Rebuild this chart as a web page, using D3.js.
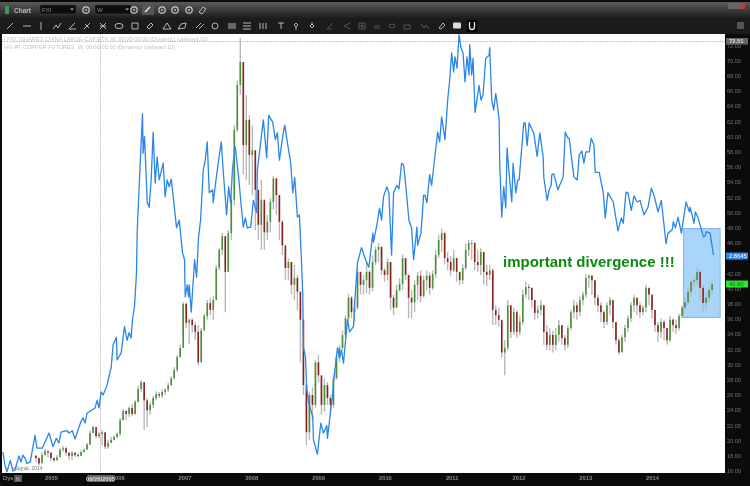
<!DOCTYPE html>
<html><head><meta charset="utf-8">
<style>html,body{margin:0;padding:0;background:#111;overflow:hidden}svg{display:block;filter:blur(.45px)}
text{font-family:"Liberation Sans",Arial,sans-serif}</style>
<script src="https://cdnjs.cloudflare.com/ajax/libs/d3/7.8.5/d3.min.js"></script></head><body>
<svg id="c" width="750" height="486"></svg>
<script>
const yearTicks=[2005,2006,2007,2008,2009,2010,2011,2012,2013,2014];
const priceTicks=[16,18,20,22,24,26,28,30,32,34,36,38,40,42,44,46,48,50,52,54,56,58,60,62,64,66,68,70,72];
const legendLines=["| FXI, ISHARES CHINA LARGE-CAP ETF, W, 00:00-00:00 (Dynamic) (delayed 15)","HG #F, COPPER FUTURES, W, 00:00-00:00 (Dynamic) (delayed 10)"];
const annotation="important divergence !!!";
const cursorYear=2005.74, cursorDate="09/26/2005", cursorPrice=72.51;
const lastCopperLabel="2.8645", lastFxi=40.60;
const boxYears=[2014.47,2015.02], boxPrices=[36.2,47.9];

const copperYears=[
2004.28,2004.31,2004.34,2004.39,2004.43,2004.46,2004.52,2004.55,2004.58,2004.61,
2004.64,2004.69,2004.76,2004.79,2004.87,2004.97,2005.03,2005.08,2005.12,2005.15,
2005.24,2005.27,2005.32,2005.36,2005.44,2005.48,2005.51,2005.54,2005.66,2005.69,
2005.72,2005.75,2005.78,2005.84,2005.89,2005.90,2005.93,2005.98,2005.99,2006.05,
2006.10,2006.14,2006.17,2006.20,2006.22,2006.25,2006.28,2006.29,2006.32,2006.37,
2006.38,2006.40,2006.43,2006.44,2006.47,2006.50,2006.53,2006.56,2006.59,2006.62,
2006.68,2006.71,2006.74,2006.77,2006.80,2006.83,2006.88,2006.92,2006.97,2007.00,
2007.01,2007.04,2007.06,2007.07,2007.10,2007.15,2007.18,2007.21,2007.24,2007.28,
2007.31,2007.34,2007.37,2007.42,2007.43,2007.46,2007.51,2007.55,2007.58,2007.63,
2007.66,2007.69,2007.72,2007.76,2007.81,2007.85,2007.88,2007.91,2007.94,2007.99,
2008.03,2008.08,2008.09,2008.15,2008.18,2008.23,2008.26,2008.32,2008.36,2008.39,
2008.42,2008.47,2008.50,2008.54,2008.59,2008.62,2008.65,2008.69,2008.72,2008.75,
2008.77,2008.78,2008.81,2008.83,2008.86,2008.92,2008.93,2008.99,2009.04,2009.08,
2009.13,2009.14,2009.22,2009.23,2009.29,2009.32,2009.35,2009.38,2009.44,2009.47,
2009.53,2009.55,2009.59,2009.65,2009.71,2009.76,2009.82,2009.83,2009.88,2009.92,
2009.95,2009.98,2010.03,2010.06,2010.10,2010.13,2010.18,2010.21,2010.25,2010.28,
2010.31,2010.36,2010.40,2010.43,2010.48,2010.49,2010.54,2010.58,2010.60,2010.63,
2010.67,2010.70,2010.79,2010.82,2010.85,2010.90,2010.94,2010.97,2011.00,2011.03,
2011.05,2011.08,2011.11,2011.14,2011.17,2011.20,2011.23,2011.26,2011.27,2011.30,
2011.32,2011.35,2011.41,2011.44,2011.47,2011.51,2011.56,2011.57,2011.60,2011.63,
2011.66,2011.71,2011.72,2011.75,2011.78,2011.81,2011.83,2011.86,2011.90,2011.92,
2011.96,2011.99,2012.01,2012.08,2012.10,2012.13,2012.16,2012.22,2012.23,2012.28,
2012.32,2012.37,2012.38,2012.43,2012.46,2012.49,2012.50,2012.53,2012.59,2012.67,
2012.70,2012.74,2012.76,2012.83,2012.88,2012.91,2012.95,2012.98,2013.01,2013.06,
2013.09,2013.13,2013.15,2013.21,2013.27,2013.30,2013.34,2013.42,2013.49,2013.54,
2013.57,2013.61,2013.64,2013.69,2013.73,2013.78,2013.82,2013.88,2013.94,2013.99,
2014.03,2014.09,2014.14,2014.21,2014.24,2014.30,2014.32,2014.35,2014.39,2014.44,
2014.51,2014.56,2014.57,2014.63,2014.65,2014.69,2014.77,2014.80,2014.81,2014.87,
2014.92];
const copperValues=[
18.5,16.8,15.9,17.4,16.0,16.1,18.0,17.2,18.1,17.7,
17.0,17.2,20.7,19.0,19.0,21.0,19.2,20.3,19.7,21.1,
21.3,21.0,21.3,20.2,22.3,23.0,22.3,23.6,24.3,25.3,
24.3,26.4,26.0,27.3,29.3,29.5,32.6,33.6,30.6,31.5,
35.0,33.2,34.2,33.5,35.9,37.6,42.0,47.3,53.4,63.0,
57.8,60.0,53.9,51.4,50.7,54.3,60.6,53.9,57.3,54.3,
56.5,52.1,54.3,53.4,54.4,52.1,48.0,49.0,44.7,43.8,
38.9,40.5,38.9,40.5,36.9,43.8,41.5,46.8,49.0,55.6,
56.9,59.3,52.6,53.0,51.3,53.6,56.9,59.3,55.3,49.7,
53.4,51.3,56.0,58.6,54.7,50.7,48.1,49.3,48.0,48.1,
51.6,50.0,55.6,60.0,62.2,57.2,62.8,61.9,59.6,60.5,
56.9,60.0,61.5,59.2,56.5,52.6,54.6,49.4,49.7,43.8,
39.4,32.3,31.0,26.7,25.0,23.1,20.1,18.2,22.3,21.0,
22.0,20.3,26.4,27.7,32.2,30.9,31.9,30.2,35.9,34.3,
35.0,38.5,43.4,45.4,43.8,42.8,47.3,46.1,48.4,50.6,
49.0,52.1,53.4,52.6,44.4,52.6,53.6,53.1,56.5,56.3,
53.9,49.0,48.0,43.8,48.1,45.7,47.3,52.3,52.3,51.3,
55.0,53.6,60.6,59.3,62.6,59.6,64.8,67.4,71.0,68.5,
70.5,69.0,73.4,71.7,71.0,67.2,70.5,68.1,72.1,68.1,
70.3,63.2,66.7,64.8,65.5,70.3,70.7,71.7,64.8,63.5,
65.7,62.4,56.5,49.4,53.4,50.6,58.5,55.2,51.4,56.5,
52.6,54.3,54.3,61.8,61.8,58.8,61.8,60.6,60.5,57.4,
60.5,57.3,54.6,51.6,53.0,53.6,55.0,55.1,53.0,54.7,
60.6,59.8,59.8,54.7,54.3,57.6,58.1,56.5,58.0,58.0,
59.8,58.9,55.3,55.3,52.6,49.3,52.6,51.4,47.6,49.3,
48.6,52.7,52.6,50.3,52.2,51.4,51.6,49.7,50.7,53.2,
52.3,50.1,51.6,45.9,47.3,47.7,48.8,48.0,49.4,47.3,
51.4,50.1,50.7,48.6,50.1,49.3,46.8,47.0,47.5,47.3,
44.4];

const candleFirstYear=2004.775, candleStepYears=0.045;
const fxiClose=[
17.7,17.0,18.1,18.6,18.4,17.7,17.4,17.8,18.8,19.0,
18.4,18.0,18.4,18.1,18.0,18.5,18.8,19.5,21.0,21.8,
20.6,20.9,21.1,19.2,19.7,20.1,20.5,20.9,22.7,23.9,
23.5,24.3,23.5,25.1,26.8,27.7,25.3,24.0,24.7,25.6,
26.1,25.9,26.4,26.7,27.3,28.2,29.3,31.0,32.2,38.0,
35.5,35.9,35.2,34.3,30.3,34.5,36.4,38.1,37.2,38.5,
42.7,45.1,46.9,42.2,47.3,51.7,60.9,66.8,69.8,58.9,
62.2,57.6,58.2,53.0,48.4,51.7,47.4,48.8,51.4,54.5,
52.3,48.8,45.7,42.7,43.5,40.5,41.4,39.6,35.9,27.3,
21.1,26.0,24.7,30.3,28.6,24.7,27.3,25.6,24.7,28.2,
30.9,32.2,33.9,36.1,38.8,36.9,37.5,42.2,40.5,41.1,
42.2,40.1,43.5,45.1,45.5,42.4,41.8,43.5,38.8,37.5,
39.8,40.6,44.0,41.8,38.8,38.2,40.5,41.7,39.0,41.1,
41.7,40.1,41.9,44.4,46.4,47.3,44.0,43.5,42.4,44.0,
42.2,41.1,42.7,45.1,46.0,46.0,43.5,43.1,44.8,42.2,
41.8,42.4,37.2,36.5,35.9,31.6,32.2,37.8,34.3,36.9,
34.3,35.6,39.2,40.2,40.1,38.5,36.8,37.2,37.8,34.3,
32.6,33.9,32.6,33.9,35.2,33.5,32.6,34.8,36.9,37.8,
36.9,38.5,39.2,41.4,41.7,41.1,38.8,37.8,36.9,35.6,
37.8,38.5,35.6,33.2,31.6,33.6,34.8,36.1,37.8,38.8,
37.8,36.9,37.5,40.1,39.2,37.2,35.2,34.3,35.6,34.8,
33.2,35.9,35.2,34.8,36.4,37.5,38.2,39.6,40.9,41.1,
42.2,40.1,38.1,38.8,39.8,40.6];
const fxiHigh=[
18.1,17.8,18.5,18.9,18.8,18.5,17.8,18.1,19.0,19.3,
19.2,18.5,18.6,18.5,18.4,18.8,19.0,19.7,21.3,22.0,
21.4,21.1,21.4,21.0,20.1,20.5,20.7,21.1,23.0,24.2,
24.0,24.5,24.8,25.3,27.2,28.0,27.6,25.6,25.1,25.9,
26.5,26.4,26.7,26.9,27.6,28.5,29.7,31.3,32.6,38.2,
38.2,36.1,36.1,35.6,35.2,34.8,36.7,38.5,38.8,39.0,
43.1,45.3,47.3,46.7,47.7,52.2,61.5,67.4,73.0,68.8,
65.5,62.8,61.5,58.2,53.0,54.3,51.0,49.7,51.9,54.8,
54.5,52.3,49.0,45.1,44.0,43.5,43.1,41.8,38.5,30.6,
27.3,26.4,27.0,30.6,31.3,28.2,28.2,27.7,26.0,28.6,
31.3,32.6,34.5,36.5,39.3,39.0,38.5,42.7,42.2,41.8,
43.5,42.4,44.4,45.5,46.0,45.3,42.7,44.0,43.5,39.2,
40.5,41.4,44.5,44.0,41.8,39.8,41.1,42.2,42.4,41.7,
42.4,42.2,42.4,45.1,47.1,47.9,47.5,44.8,44.3,45.1,
44.0,42.2,43.2,45.9,46.4,46.4,46.1,45.1,45.3,44.8,
43.1,43.1,42.7,37.8,37.5,35.6,33.2,38.5,37.8,37.5,
37.2,36.5,39.8,40.9,40.6,40.1,38.5,37.8,38.5,37.8,
35.2,34.8,34.5,34.8,35.9,35.2,33.9,35.2,37.2,38.5,
38.2,39.0,39.6,41.9,41.9,41.8,41.1,39.2,38.2,37.2,
38.2,38.9,38.2,35.6,33.5,33.9,35.2,36.5,38.2,39.2,
38.8,38.2,37.8,40.5,40.1,39.2,37.2,35.6,36.1,35.9,
34.8,36.4,36.1,35.9,36.7,37.8,38.8,40.1,41.1,41.5,
42.7,42.4,40.5,39.3,40.3,41.1];
const fxiLow=[
17.2,16.7,17.4,18.0,17.8,17.3,17.2,17.4,18.0,18.5,
18.0,17.4,17.4,17.8,17.8,18.0,18.4,18.8,19.4,21.0,
20.3,20.3,19.4,18.9,18.9,19.7,20.0,20.3,20.6,22.6,
22.7,23.1,23.2,23.4,25.0,26.4,21.4,21.8,23.4,24.3,
25.3,25.6,25.6,26.0,26.4,27.2,28.0,29.0,30.9,33.9,
34.8,32.7,34.2,33.2,29.8,30.3,34.5,35.9,36.5,35.9,
38.5,42.4,44.4,36.9,42.2,46.4,51.0,60.6,65.5,55.0,
54.3,53.6,52.3,47.7,46.4,45.1,45.1,46.4,47.4,50.4,
49.7,46.4,44.4,41.1,41.1,39.2,38.5,37.2,30.3,26.0,
19.4,20.1,22.7,24.3,27.7,23.4,23.8,24.7,23.4,24.3,
28.0,30.3,31.9,33.5,35.6,36.1,35.6,37.2,39.2,39.2,
39.4,39.2,39.6,43.1,43.5,41.8,40.9,41.1,37.2,36.5,
37.5,39.6,39.8,41.1,36.1,36.1,36.9,38.5,38.2,38.8,
39.8,39.2,39.8,41.4,44.0,44.8,43.2,42.4,41.7,42.2,
40.9,40.5,40.6,42.4,44.3,43.8,42.4,42.2,41.8,40.5,
40.3,41.1,35.2,35.2,35.0,30.9,28.6,31.9,33.5,33.9,
33.5,33.9,35.2,38.8,38.5,37.5,35.9,36.1,36.5,32.6,
31.9,31.9,31.6,31.9,33.0,32.6,31.9,32.2,34.5,36.1,
35.9,36.4,37.8,38.8,40.1,39.2,37.8,36.9,35.6,34.8,
35.2,36.5,34.8,32.6,31.3,31.7,33.0,34.3,35.6,36.9,
36.5,36.1,36.5,36.9,37.8,36.1,34.3,33.0,33.5,33.2,
32.6,33.0,34.3,34.0,34.5,36.1,37.2,37.8,39.0,40.2,
40.5,38.5,37.0,37.2,38.2,39.2];

const svg=d3.select("#c");
const x=d3.scaleLinear().domain([2005,2014]).range([51,652]);
const y=d3.scaleLinear().domain([16,72]).range([471,45.4]);

const defs=svg.append("defs");
defs.append("clipPath").attr("id","plot").append("rect").attr("x",2).attr("y",34).attr("width",723).attr("height",439);
const grad=defs.append("linearGradient").attr("id","title").attr("x1",0).attr("y1",0).attr("x2",0).attr("y2",1);
grad.append("stop").attr("offset",0).attr("stop-color","#5a5a5a");
grad.append("stop").attr("offset",1).attr("stop-color","#1e1e1e");

svg.append("rect").attr("width",750).attr("height",486).attr("fill","#0b0b0b");
svg.append("rect").attr("x",0).attr("y",2).attr("width",750).attr("height",16).attr("fill","url(#title)");
svg.append("rect").attr("x",0).attr("y",18).attr("width",750).attr("height",16).attr("fill","#1b1b1b");
svg.append("rect").attr("x",2).attr("y",34).attr("width",723).attr("height",439).attr("fill","#fff");

// toolbar chrome
const bar=svg.append("g");
bar.append("path").attr("d","M5 6h4v8h-4z").attr("fill","#3f9a55");
bar.append("text").attr("x",14).attr("y",12.5).attr("font-size",6.5).attr("font-weight","bold").attr("fill","#bbb").text("Chart");
[[40,36,"FXI"],[95,36,"W"]].forEach(d=>{
  bar.append("rect").attr("x",d[0]).attr("y",5).attr("width",d[1]).attr("height",9).attr("fill","#0c0c0c").attr("stroke","#444").attr("stroke-width",.5);
  bar.append("text").attr("x",d[0]+2).attr("y",12).attr("font-size",6).attr("fill","#888").text(d[2]);
  bar.append("path").attr("d",`M${d[0]+d[1]-6} 8.5l2 2l2-2z`).attr("fill","#aaa");
});
bar.append("rect").attr("x",142).attr("y",4).attr("width",12).attr("height",11).attr("fill","#555");
bar.append("path").attr("d","M145 12l5-5").attr("stroke","#ddd").attr("stroke-width",1.6);
[86,134,162,175,189].forEach(c=>{
  bar.append("circle").attr("cx",c).attr("cy",10).attr("r",3.2).attr("fill","none").attr("stroke","#ccc").attr("stroke-width",1.2);
  bar.append("circle").attr("cx",c).attr("cy",10).attr("r",.9).attr("fill","#ccc");
});
bar.append("path").attr("d","M199 12l4-5l3 2l-4 5z").attr("fill","none").attr("stroke","#bbb");
const icons=[
 [10,"M-3 3L3-3"],[27,"M-4 0H4"],[41,"M0-4V4"],[57,"M-4 3L-1-1L1 2L4-3"],[72,"M-3 3L3-3M-3 3H4"],[87,"M-3 3L3-3M-2-2L2 2"],[103,"M-3-3L3 3M-3 3L3-3M-3 0H3"],
 [119,"M-4 0a4 2.6 0 1 0 8 0a4 2.6 0 1 0-8 0"],[135,"M-3-3H3V3H-3Z"],[150,"M-3 1L1-3L3-1L-1 3Z"],[167,"M-4 3L0-3L4 3Z"],[182,"M-4 3L-1-2L4-3L3 2Z"],
 [200,"M-4 2L1-3M-1 3L4-2"],[215,"M-3 0a3 3 0 1 0 6 0a3 3 0 1 0-6 0"],[232,"M-4-2H4M-4 0H4M-4 2H4"],[247,"M-4-3H4M-4 3H4M-4 0H4"],[263,"M-3-3V3M0-3V3M3-3V3"],
 [281,"M-3-3H3M0-3V3"],[296,"M-2-1L0-3L2-1L0 1ZM0 1V4"],[312,"M-2 0L0-2L2 0L0 2ZM0-4V-2"],
 [330,"M-3 3L3-3M-3 3H2","#555"],[347,"M3-3L-3 0L3 3","#555"],[362,"M-3-3H3V3H-3ZM0-3V3M-3 0H3","#555"],[377,"M-3 0H3M-3 2H3","#555"],[392,"M-3 0a3 2 0 1 0 6 0a3 2 0 1 0-6 0","#555"],
 [407,"M-3 3V-1H3V3Z","#555"],[425,"M-4-2L-1 2L1-1L4 3","#555"],[442,"M-3 2L1-3L3-1L-1 3Z"]
];
icons.forEach(d=>{
  bar.append("path").attr("transform",`translate(${d[0]},26)`).attr("d",d[1]).attr("fill","none").attr("stroke",d[2]||"#b5b5b5").attr("stroke-width",1);
});
bar.append("rect").attr("x",453).attr("y",22.5).attr("width",8).attr("height",6).attr("rx",1).attr("fill","#ddd");
bar.append("rect").attr("x",467).attr("y",20).attr("width",10).attr("height",12).attr("fill","#000");
bar.append("path").attr("d","M469.5 22v5a2.5 2.5 0 0 0 5 0v-5").attr("fill","none").attr("stroke","#eee").attr("stroke-width",1.3);
bar.append("rect").attr("x",737).attr("y",22).attr("width",7).attr("height",7).attr("fill","#555");
bar.append("rect").attr("x",728).attr("y",3).attr("width",11).attr("height",6).attr("fill","#666");
bar.append("rect").attr("x",739).attr("y",3).attr("width",6).attr("height",6).attr("fill","#a8453c");

// plot
const plot=svg.append("g").attr("clip-path","url(#plot)");
plot.append("rect").attr("x",x(boxYears[0])).attr("y",y(boxPrices[1]))
  .attr("width",x(boxYears[1])-x(boxYears[0])).attr("height",y(boxPrices[0])-y(boxPrices[1]))
  .attr("fill","#a9d5fb").attr("stroke","#7cb9ee").attr("stroke-width",1);

plot.append("line").attr("x1",x(cursorYear)).attr("x2",x(cursorYear)).attr("y1",34).attr("y2",473)
  .attr("stroke","#999").attr("stroke-width",.8).attr("stroke-dasharray","1.2 1.2");
plot.append("line").attr("x1",2).attr("x2",725).attr("y1",y(cursorPrice)).attr("y2",y(cursorPrice))
  .attr("stroke","#999").attr("stroke-width",.8).attr("stroke-dasharray","1.2 1.2");

const candles=fxiClose.map((c,i)=>({year:candleFirstYear+i*candleStepYears,open:i?fxiClose[i-1]:c+0.3,close:c,high:fxiHigh[i],low:fxiLow[i]}));
plot.append("g").selectAll("line").data(candles).join("line")
  .attr("x1",d=>x(d.year)).attr("x2",d=>x(d.year)).attr("y1",d=>y(d.high)).attr("y2",d=>y(d.low))
  .attr("stroke","#b9b9b9").attr("stroke-width",1.4);
plot.append("g").selectAll("rect").data(candles).join("rect")
  .attr("x",d=>x(d.year)-.8).attr("width",1.6)
  .attr("y",d=>y(Math.max(d.open,d.close)))
  .attr("height",d=>Math.max(1,Math.abs(y(d.open)-y(d.close))))
  .attr("fill",d=>d.close>=d.open?"#4a9038":"#8c2020");

const line=d3.line().x(d=>x(d[0])).y(d=>y(d[1]));
plot.append("path").datum(d3.zip(copperYears,copperValues)).attr("d",line)
  .attr("fill","none").attr("stroke","#2a86e8").attr("stroke-width",1.3).attr("stroke-linejoin","round");

const legend=plot.append("g");
legendLines.forEach((t,i)=>legend.append("text").attr("x",4).attr("y",41+i*8).attr("font-size",5.6).attr("fill","#c4c4c4").text(t));
plot.append("text").attr("x",12).attr("y",470).attr("font-size",5).attr("fill","#777").text("eSignal, 2014");
plot.append("text").attr("x",503).attr("y",267).attr("font-size",15).attr("font-weight","bold").attr("fill","#0b8a0b").text(annotation);

// axes
const yAxis=d3.axisRight(y).tickValues(priceTicks).tickSize(0).tickPadding(0).tickFormat(d3.format(".2f"));
const yg=svg.append("g").attr("transform","translate(727,0)").call(yAxis);
yg.select(".domain").remove();
yg.selectAll("text").attr("font-size",5.6).attr("fill","#757575").attr("font-family","Liberation Sans");
const xAxis=d3.axisBottom(x).tickValues(yearTicks).tickSize(0).tickPadding(0).tickFormat(d3.format("d"));
const xg=svg.append("g").attr("transform","translate(0,475.5)").call(xAxis);
xg.select(".domain").remove();
xg.selectAll("text").attr("font-size",5.8).attr("font-weight","bold").attr("fill","#8c8c8c").attr("font-family","Liberation Sans");

svg.append("text").attr("x",3).attr("y",480).attr("font-size",6).attr("fill","#aaa").text("Dys");
svg.append("rect").attr("x",14).attr("y",475).attr("width",8).attr("height",7).attr("fill","#555");
svg.append("text").attr("x",18).attr("y",480.5).attr("text-anchor","middle").attr("font-size",4.5).attr("fill","#ccc").text("fit");

// cursor and last-value tags
svg.append("rect").attr("x",x(cursorYear)-13).attr("y",475).attr("width",27).attr("height",7).attr("fill","#666");
svg.append("text").attr("x",x(cursorYear)).attr("y",480.6).attr("text-anchor","middle").attr("font-size",5.8).attr("font-weight","bold").attr("fill","#ddd").text(cursorDate);
svg.append("rect").attr("x",726).attr("y",y(cursorPrice)-3.5).attr("width",22).attr("height",6.5).attr("fill","#666");
svg.append("text").attr("x",729).attr("y",y(cursorPrice)+1.8).attr("font-size",5.8).attr("font-weight","bold").attr("fill","#ddd").text(cursorPrice.toFixed(2));
svg.append("rect").attr("x",726).attr("y",252.5).attr("width",22).attr("height",7).attr("fill","#2f86e8");
svg.append("text").attr("x",729).attr("y",258.2).attr("font-size",5.8).attr("fill","#fff").text(lastCopperLabel);
svg.append("rect").attr("x",726).attr("y",y(lastFxi)-3.5).attr("width",22).attr("height",7).attr("fill","#2ee62e");
svg.append("text").attr("x",729).attr("y",y(lastFxi)+2.1).attr("font-size",5.8).attr("fill","#063").text(lastFxi.toFixed(2));
</script></body></html>
